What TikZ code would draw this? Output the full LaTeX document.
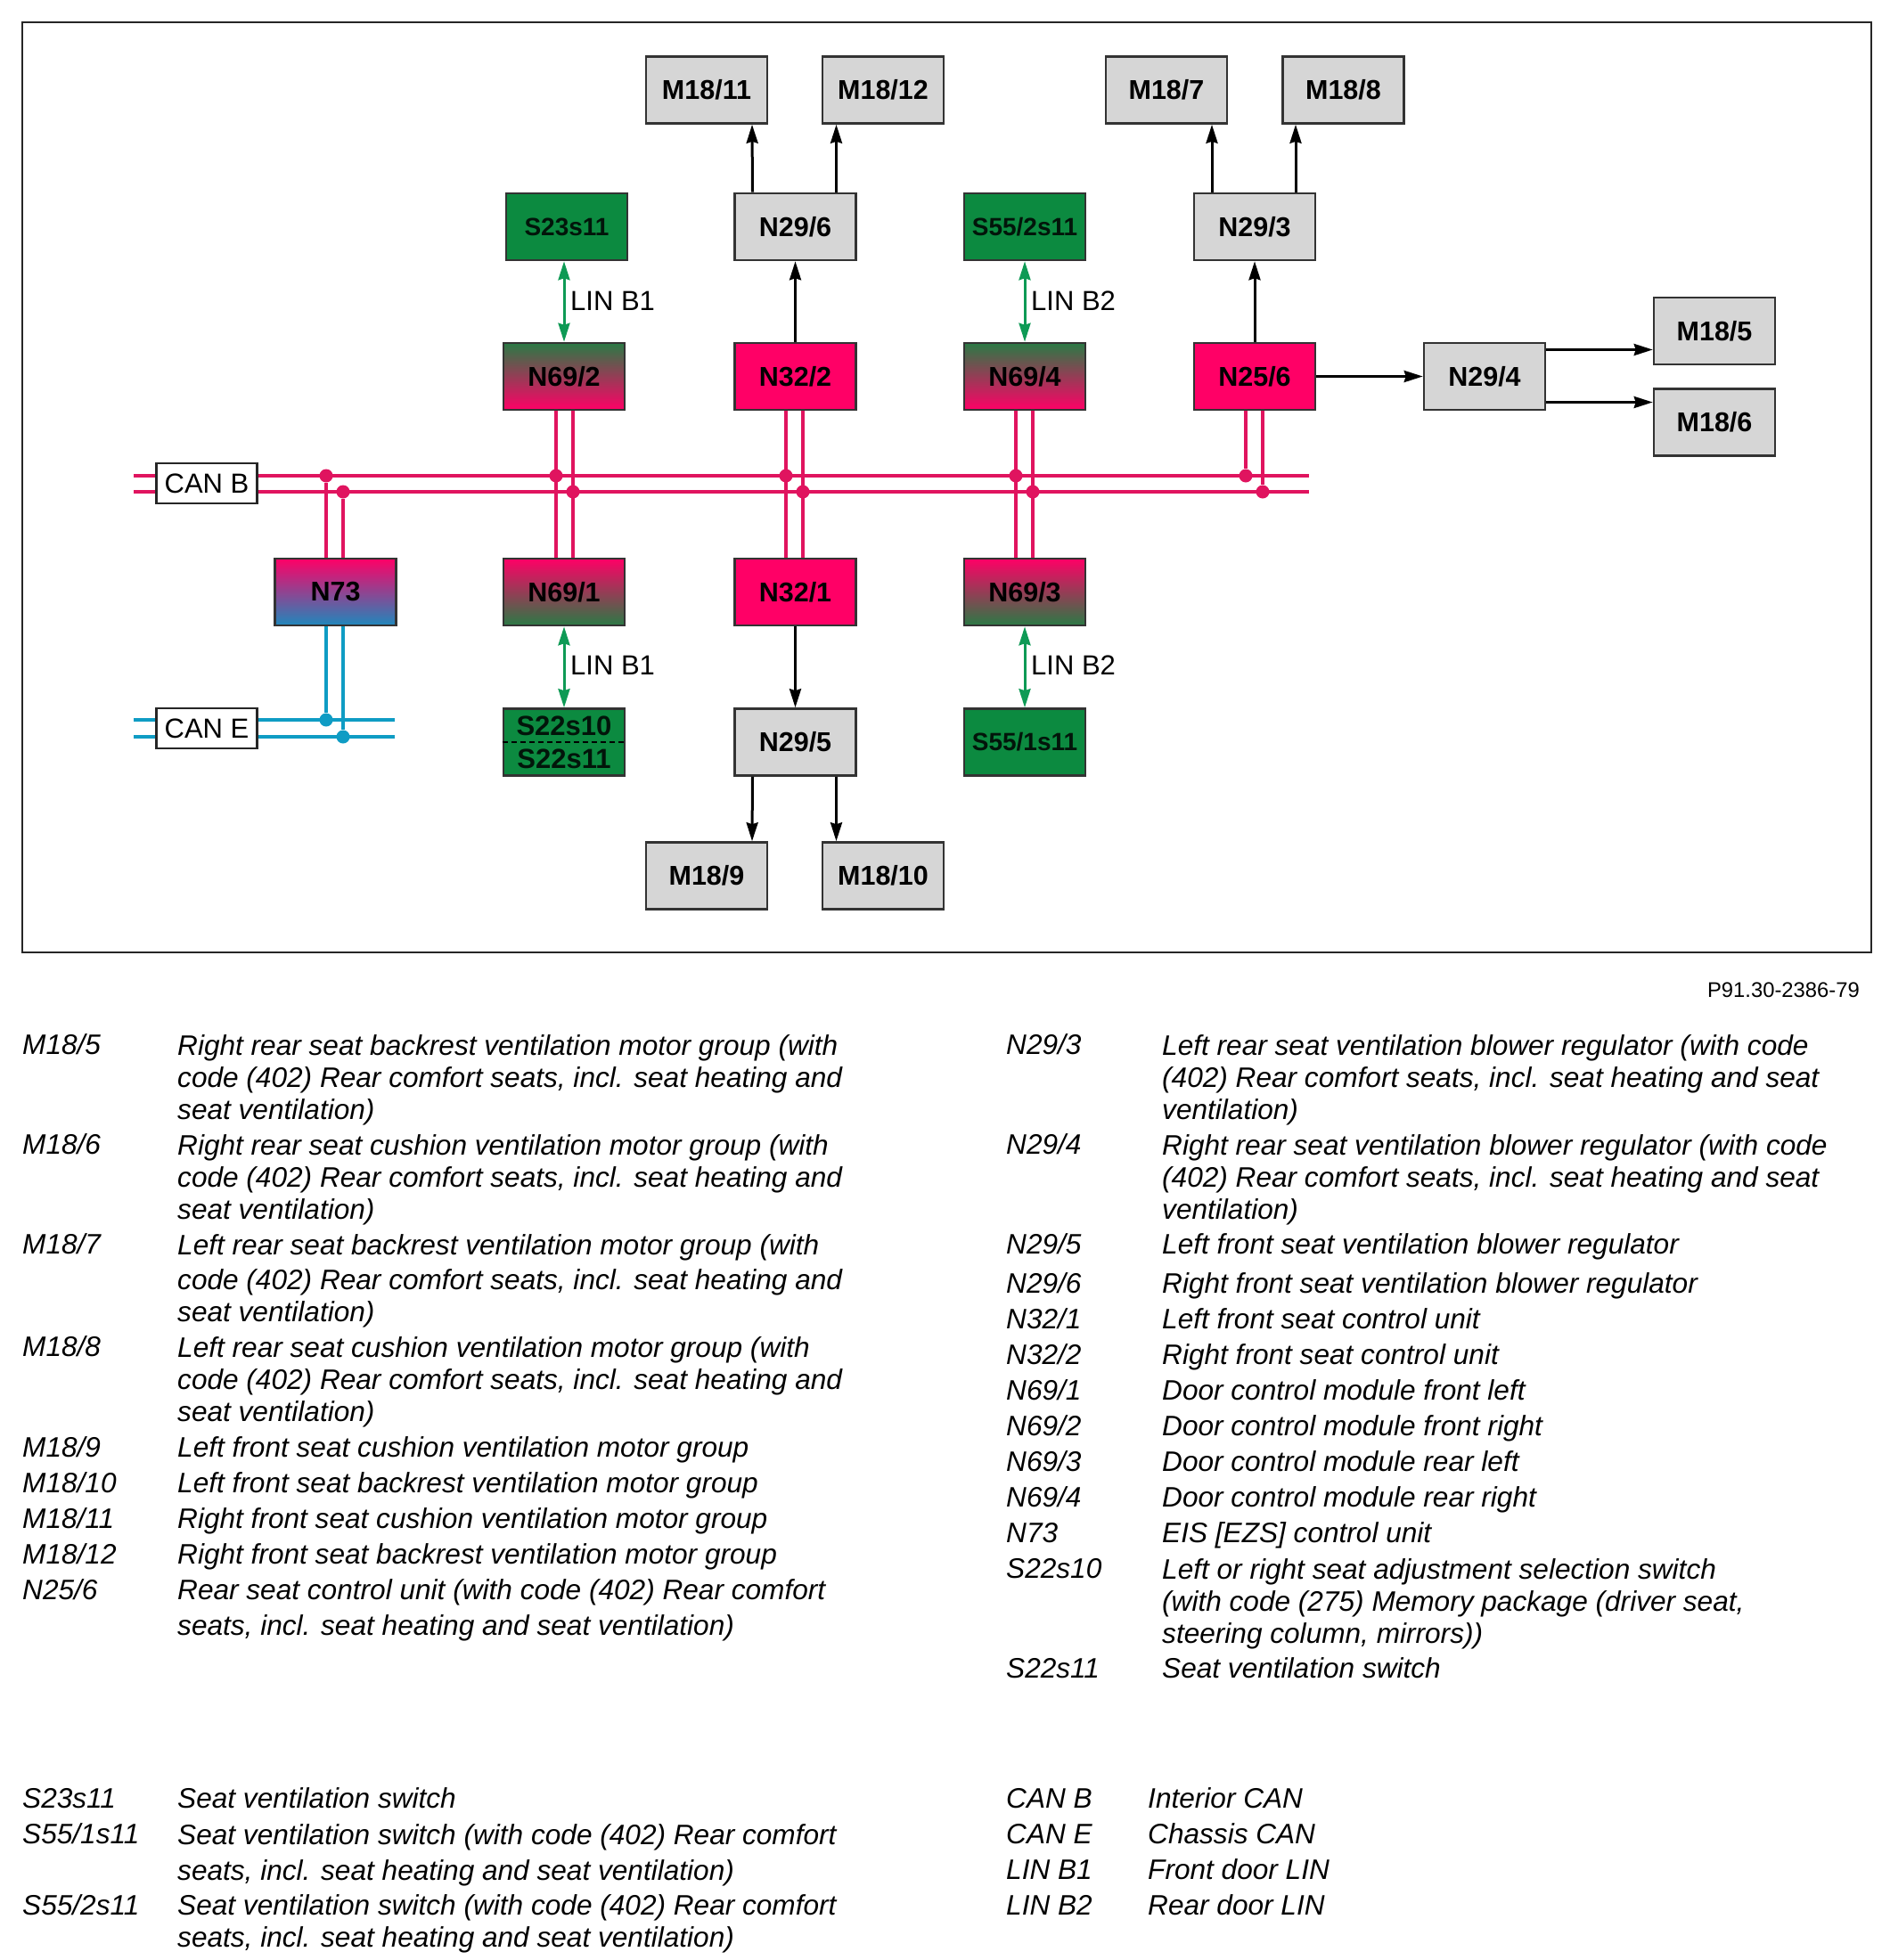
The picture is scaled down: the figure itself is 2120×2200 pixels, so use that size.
\documentclass[tikz,border=0pt]{standalone}
\usepackage{fontspec}
\setmainfont{Liberation Sans}
\usetikzlibrary{arrows.meta}
\definecolor{canpink}{HTML}{E0145F}
\definecolor{canblue}{HTML}{0F9CC4}
\definecolor{boxpink}{HTML}{FF0066}
\definecolor{boxgreen}{HTML}{0C8A40}
\definecolor{boxgrey}{HTML}{D6D6D6}
\definecolor{midgreen}{HTML}{2A7A45}
\definecolor{linkgreen}{HTML}{0E9A55}
\definecolor{lowblue}{HTML}{1F88BC}
\tikzset{
  unit/.style={draw=black!80,line width=2.6pt,minimum width=136pt,minimum height=75pt,inner sep=0pt,
    font=\fontsize{30.5}{34}\selectfont\bfseries},
  greyunit/.style={unit,fill=boxgrey},
  pinkunit/.style={unit,fill=boxpink},
  greenunit/.style={unit,fill=boxgreen,text=black!85!boxgreen,font=\fontsize{28}{34}\selectfont\bfseries},
  doorunit/.style={unit,top color=midgreen,bottom color=boxpink},
  doorunitb/.style={unit,top color=boxpink,bottom color=midgreen},
  gatewayunit/.style={unit,top color=boxpink,bottom color=lowblue},
  canbox/.style={draw=black!85,line width=2.6pt,fill=white,minimum width=113pt,minimum height=45pt,inner sep=0pt,
    font=\fontsize{31}{34}\selectfont},
  linklabel/.style={inner sep=0pt,anchor=west,font=\fontsize{31}{34}\selectfont},
  pinkwire/.style={canpink,line width=4.6pt},
  bluewire/.style={canblue,line width=4.6pt},
  pinkdot/.style={circle,fill=canpink,minimum size=15pt,inner sep=0pt},
  bluedot/.style={circle,fill=canblue,minimum size=15pt,inner sep=0pt},
  sigarrow/.style={-{Stealth[length=21pt,width=13pt,inset=2pt]},black,line width=3pt},
  linarrow/.style={{Stealth[length=21pt,width=13pt,inset=2pt]}-{Stealth[length=21pt,width=13pt,inset=2pt]},linkgreen,line width=3pt},
  legkey/.style={anchor=north west,inner sep=0pt,yshift=14pt,align=left,
    font=\fontsize{31.6}{36}\selectfont\itshape,execute at begin node=\strut},
  legtext/.style={legkey},
  legblock/.style={legkey,yshift=-3pt}
}
\begin{document}
\begin{tikzpicture}[x=1pt,y=-1pt]
        \useasboundingbox (0,0) rectangle (2120,2200);
        \node [draw=black!85,line width=1.6pt,minimum width=2075pt,minimum height=1044pt,inner sep=0pt,anchor=north west] (frame) at (24,24) {};
        % buses
        \coordinate (bus1a) at (150,534);
        \coordinate (bus1b) at (1469,534);
        \coordinate (bus2a) at (150,552);
        \coordinate (bus2b) at (1469,552);
        \coordinate (bus3a) at (150,808);
        \coordinate (bus3b) at (443,808);
        \coordinate (bus4a) at (150,827);
        \coordinate (bus4b) at (443,827);
        \draw[pinkwire] (bus1a) -- (bus1b);
        \draw[pinkwire] (bus2a) -- (bus2b);
        \draw[bluewire] (bus3a) -- (bus3b);
        \draw[bluewire] (bus4a) -- (bus4b);
        \node [canbox] (canb) at (232,542.5) {CAN B};
        \node [canbox] (cane) at (232,817.5) {CAN E};
        % units
        \node [greyunit] (m1811) at (793,101) {M18/11};
        \node [greyunit] (m1812) at (991,101) {M18/12};
        \node [greyunit] (m187) at (1309,101) {M18/7};
        \node [greyunit] (m188) at (1507.5,101) {M18/8};
        \node [greenunit] (s23) at (636,254.5) {S23s11};
        \node [greyunit] (n296) at (892.5,254.5) {N29/6};
        \node [greenunit] (s552) at (1150,254.5) {S55/2s11};
        \node [greyunit] (n293) at (1408,254.5) {N29/3};
        \node [doorunit] (n692) at (633,422.5) {N69/2};
        \node [pinkunit] (n322) at (892.5,422.5) {N32/2};
        \node [doorunit] (n694) at (1150,422.5) {N69/4};
        \node [pinkunit] (n256) at (1408,422.5) {N25/6};
        \node [greyunit] (n294) at (1666,422.5) {N29/4};
        \node [greyunit] (m185) at (1924,371.5) {M18/5};
        \node [greyunit] (m186) at (1924,474) {M18/6};
        \node [gatewayunit] (n73) at (376.5,664.5) {N73};
        \node [doorunitb] (n691) at (633,664.5) {N69/1};
        \node [pinkunit] (n321) at (892.5,664.5) {N32/1};
        \node [doorunitb] (n693) at (1150,664.5) {N69/3};
        \node [greenunit,align=center,font=\fontsize{31}{37}\selectfont\bfseries] (s22) at (633,833) {S22s10\\S22s11};
        \node [greyunit] (n295) at (892.5,833) {N29/5};
        \node [greenunit] (s551) at (1150,833) {S55/1s11};
        \node [greyunit] (m189) at (793,983) {M18/9};
        \node [greyunit] (m1810) at (991,983) {M18/10};
        \draw[black,line width=2.4pt,dash pattern=on 6pt off 4pt] (s22.west) -- (s22.east);
        % junctions
        \node [pinkdot] (j1) at (366,534) {};
        \node [pinkdot] (j2) at (385,552) {};
        \node [pinkdot] (j3) at (624,534) {};
        \node [pinkdot] (j4) at (643,552) {};
        \node [pinkdot] (j5) at (882,534) {};
        \node [pinkdot] (j6) at (901,552) {};
        \node [pinkdot] (j7) at (1140,534) {};
        \node [pinkdot] (j8) at (1159,552) {};
        \node [pinkdot] (j9) at (1398,534) {};
        \node [pinkdot] (j10) at (1417,552) {};
        \node [bluedot] (j11) at (366,808) {};
        \node [bluedot] (j12) at (385,827) {};
        % stubs
        \draw[pinkwire] (j1) -- (j1 |- n73.north);
        \draw[pinkwire] (j2) -- (j2 |- n73.north);
        \draw[pinkwire] (j3 |- n692.south) -- (j3 |- n691.north);
        \draw[pinkwire] (j4 |- n692.south) -- (j4 |- n691.north);
        \draw[pinkwire] (j5 |- n322.south) -- (j5 |- n321.north);
        \draw[pinkwire] (j6 |- n322.south) -- (j6 |- n321.north);
        \draw[pinkwire] (j7 |- n694.south) -- (j7 |- n693.north);
        \draw[pinkwire] (j8 |- n694.south) -- (j8 |- n693.north);
        \draw[pinkwire] (j9 |- n256.south) -- (j9);
        \draw[pinkwire] (j10 |- n256.south) -- (j10);
        \draw[bluewire] (j11 |- n73.south) -- (j11);
        \draw[bluewire] (j12 |- n73.south) -- (j12);
        % arrows
        \draw[sigarrow] ([xshift=-48pt]n296.north) -- ([xshift=51pt]m1811.south);
        \draw[sigarrow] ([xshift=46pt]n296.north) -- ([xshift=-52.5pt]m1812.south);
        \draw[sigarrow] (n322.north) -- (n296.south);
        \draw[sigarrow] ([xshift=-48pt]n293.north) -- ([xshift=51pt]m187.south);
        \draw[sigarrow] ([xshift=46pt]n293.north) -- ([xshift=-53.5pt]m188.south);
        \draw[sigarrow] (n256.north) -- (n293.south);
        \draw[sigarrow] (n256.east) -- (n294.west);
        \draw[sigarrow] ([yshift=30pt]n294.east) -- ([yshift=-21pt]m185.west);
        \draw[sigarrow] ([yshift=-29pt]n294.east) -- ([yshift=22.5pt]m186.west);
        \draw[sigarrow] (n321.south) -- (n295.north);
        \draw[sigarrow] ([xshift=-48pt]n295.south) -- ([xshift=51pt]m189.north);
        \draw[sigarrow] ([xshift=46pt]n295.south) -- ([xshift=-52.5pt]m1810.north);
        \draw[linarrow] (n692.north) -- (n692.north |- s23.south);
        \draw[linarrow] (n691.south) -- (n691.south |- s22.north);
        \draw[linarrow] (n694.north) -- (s552.south);
        \draw[linarrow] (n693.south) -- (s551.north);
        \node [linklabel] (lb1) at (640,338) {LIN B1};
        \node [linklabel] (lb2) at (1157,338) {LIN B2};
        \node [linklabel] (lb3) at (640,747) {LIN B1};
        \node [linklabel] (lb4) at (1157,747) {LIN B2};
        \node [anchor=east,inner sep=0pt,font=\fontsize{23.8}{28}\selectfont] (ref) at (2087,1111) {P91.30-2386-79};
        % legend, left column
        \node [legkey] (k185) at (25,1172) {M18/5};
        \node [legblock] (t185) at (199,1172) {Right rear seat backrest ventilation motor group (with\\code (402) Rear comfort seats, incl. seat heating and\\seat ventilation)};
        \node [legkey] (k186) at (25,1284) {M18/6};
        \node [legblock] (t186) at (199,1284) {Right rear seat cushion ventilation motor group (with\\code (402) Rear comfort seats, incl. seat heating and\\seat ventilation)};
        \node [legkey] (k187) at (25,1396) {M18/7};
        \node [legblock] (t187) at (199,1396) {Left rear seat backrest ventilation motor group (with\\[3pt]code (402) Rear comfort seats, incl. seat heating and\\seat ventilation)};
        \node [legkey] (k188) at (25,1511) {M18/8};
        \node [legblock] (t188) at (199,1511) {Left rear seat cushion ventilation motor group (with\\code (402) Rear comfort seats, incl. seat heating and\\seat ventilation)};
        \node [legkey] (k189) at (25,1624) {M18/9};
        \node [legtext] (t189) at (199,1624) {Left front seat cushion ventilation motor group};
        \node [legkey] (k1810) at (25,1664) {M18/10};
        \node [legtext] (t1810) at (199,1664) {Left front seat backrest ventilation motor group};
        \node [legkey] (k1811) at (25,1704) {M18/11};
        \node [legtext] (t1811) at (199,1704) {Right front seat cushion ventilation motor group};
        \node [legkey] (k1812) at (25,1744) {M18/12};
        \node [legtext] (t1812) at (199,1744) {Right front seat backrest ventilation motor group};
        \node [legkey] (k256) at (25,1784) {N25/6};
        \node [legblock] (t256) at (199,1783) {Rear seat control unit (with code (402) Rear comfort\\[4pt]seats, incl. seat heating and seat ventilation)};
        \node [legkey] (ks23) at (25,2018) {S23s11};
        \node [legtext] (ts23) at (199,2018) {Seat ventilation switch};
        \node [legkey] (ks551) at (25,2058) {S55/1s11};
        \node [legblock] (ts551) at (199,2058) {Seat ventilation switch (with code (402) Rear comfort\\[4pt]seats, incl. seat heating and seat ventilation)};
        \node [legkey] (ks552) at (25,2138) {S55/2s11};
        \node [legblock] (ts552) at (199,2137) {Seat ventilation switch (with code (402) Rear comfort\\seats, incl. seat heating and seat ventilation)};
        % legend, right column
        \node [legkey] (k293) at (1129,1172) {N29/3};
        \node [legblock] (t293) at (1304,1172) {Left rear seat ventilation blower regulator (with code\\(402) Rear comfort seats, incl. seat heating and seat\\ventilation)};
        \node [legkey] (k294) at (1129,1284) {N29/4};
        \node [legblock] (t294) at (1304,1284) {Right rear seat ventilation blower regulator (with code\\(402) Rear comfort seats, incl. seat heating and seat\\ventilation)};
        \node [legkey] (k295) at (1129,1396) {N29/5};
        \node [legtext] (t295) at (1304,1396) {Left front seat ventilation blower regulator};
        \node [legkey] (k296) at (1129,1440) {N29/6};
        \node [legtext] (t296) at (1304,1440) {Right front seat ventilation blower regulator};
        \node [legkey] (k321) at (1129,1480) {N32/1};
        \node [legtext] (t321) at (1304,1480) {Left front seat control unit};
        \node [legkey] (k322) at (1129,1520) {N32/2};
        \node [legtext] (t322) at (1304,1520) {Right front seat control unit};
        \node [legkey] (k691) at (1129,1560) {N69/1};
        \node [legtext] (t691) at (1304,1560) {Door control module front left};
        \node [legkey] (k692) at (1129,1600) {N69/2};
        \node [legtext] (t692) at (1304,1600) {Door control module front right};
        \node [legkey] (k693) at (1129,1640) {N69/3};
        \node [legtext] (t693) at (1304,1640) {Door control module rear left};
        \node [legkey] (k694) at (1129,1680) {N69/4};
        \node [legtext] (t694) at (1304,1680) {Door control module rear right};
        \node [legkey] (k73) at (1129,1720) {N73};
        \node [legtext] (t73) at (1304,1720) {EIS [EZS] control unit};
        \node [legkey] (ks2210) at (1129,1760) {S22s10};
        \node [legblock] (ts2210) at (1304,1760) {Left or right seat adjustment selection switch\\(with code (275) Memory package (driver seat,\\steering column, mirrors))};
        \node [legkey] (ks2211) at (1129,1872) {S22s11};
        \node [legtext] (ts2211) at (1304,1872) {Seat ventilation switch};
        \node [legkey] (kcanb) at (1129,2018) {CAN B};
        \node [legtext] (tcanb) at (1288,2018) {Interior CAN};
        \node [legkey] (kcane) at (1129,2058) {CAN E};
        \node [legtext] (tcane) at (1288,2058) {Chassis CAN};
        \node [legkey] (klinb1) at (1129,2098) {LIN B1};
        \node [legtext] (tlinb1) at (1288,2098) {Front door LIN};
        \node [legkey] (klinb2) at (1129,2138) {LIN B2};
        \node [legtext] (tlinb2) at (1288,2138) {Rear door LIN};
\end{tikzpicture}
\end{document}
